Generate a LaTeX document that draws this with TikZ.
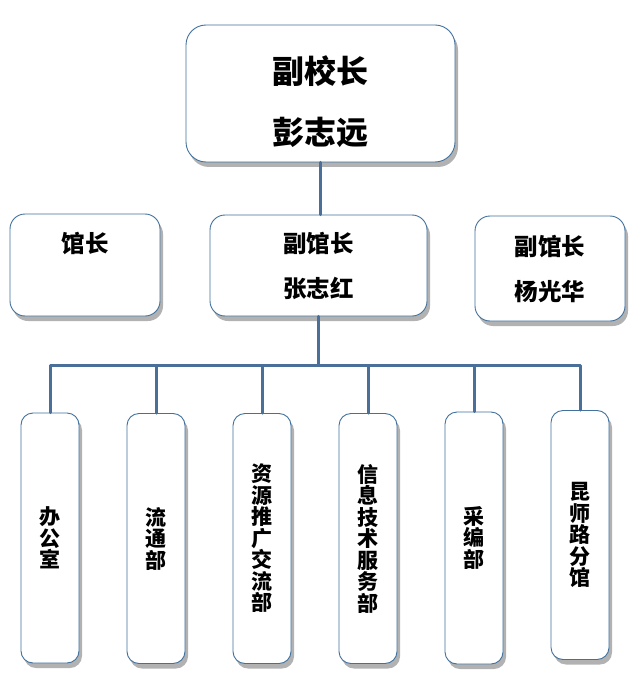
\documentclass[tikz,border=0pt]{standalone}
\usepackage{fontspec}
\newfontfamily\cjk{Noto Sans CJK SC}
\usepackage{xcolor}
\usepackage{tikz}
\usetikzlibrary{shadows}
\definecolor{frame}{HTML}{41719C}
\definecolor{wireblue}{HTML}{4A6F98}

\begin{document}
\begin{tikzpicture}[x=1pt,y=1pt,line cap=round,line join=round,
  card/.style={draw=frame,line width=0.9pt,fill=white,rounded corners=#1,inner sep=0pt,align=center,
    drop shadow={shadow xshift=3pt,shadow yshift=-5pt,opacity=0.3,fill=black}},
  card/.default=12pt,
  big/.style={font=\cjk\bfseries\fontsize{32}{61}\selectfont},
  mid/.style={font=\cjk\bfseries\fontsize{23.5}{45}\selectfont},
  dept/.style={card,minimum width=58,minimum height=250,font=\cjk\bfseries\fontsize{21}{21.5}\selectfont},
  wire/.style={draw=wireblue,line width=3pt}]
  \path[use as bounding box,fill=white] (0,0) rectangle (640,-695);
  \node[card=20pt,big,minimum width=269,minimum height=137] (vice) at (320.5,-93.5) {\rule{0pt}{45pt}副校长\\彭志远};
  \node[card=15pt,mid,minimum width=150,minimum height=102] (curator) at (85,-265) {馆长\\\mbox{}};
  \node[card=15pt,mid,minimum width=217,minimum height=101] (zhang) at (318.5,-265.5) {副馆长\\张志红};
  \node[card=15pt,mid,minimum width=150,minimum height=105] (yang) at (550,-268.5) {副馆长\\杨光华};
  \node[dept] (office) at (50,-538) {办\\公\\室};
  \node[dept] (loan) at (156,-538.5) {流\\通\\部};
  \node[dept] (promo) at (262,-538.5) {资\\源\\推\\广\\交\\流\\部};
  \node[dept] (infotech) at (368,-538.5) {信\\息\\技\\术\\服\\务\\部};
  \node[dept,minimum height=252] (catalog) at (474,-538) {采\\编\\部};
  \node[dept,minimum height=249] (branch) at (580,-535) {昆\\师\\路\\分\\馆};
  \coordinate (bus) at ([yshift=-49pt]zhang.south);
  \draw[wire] (vice.south) -- (vice.south |- zhang.north);
  \draw[wire] (zhang.south) -- (bus);
  \foreach \d in {office,loan,promo,infotech,catalog,branch}
    \draw[wire] (bus) -| (\d.north);
\end{tikzpicture}
\end{document}
